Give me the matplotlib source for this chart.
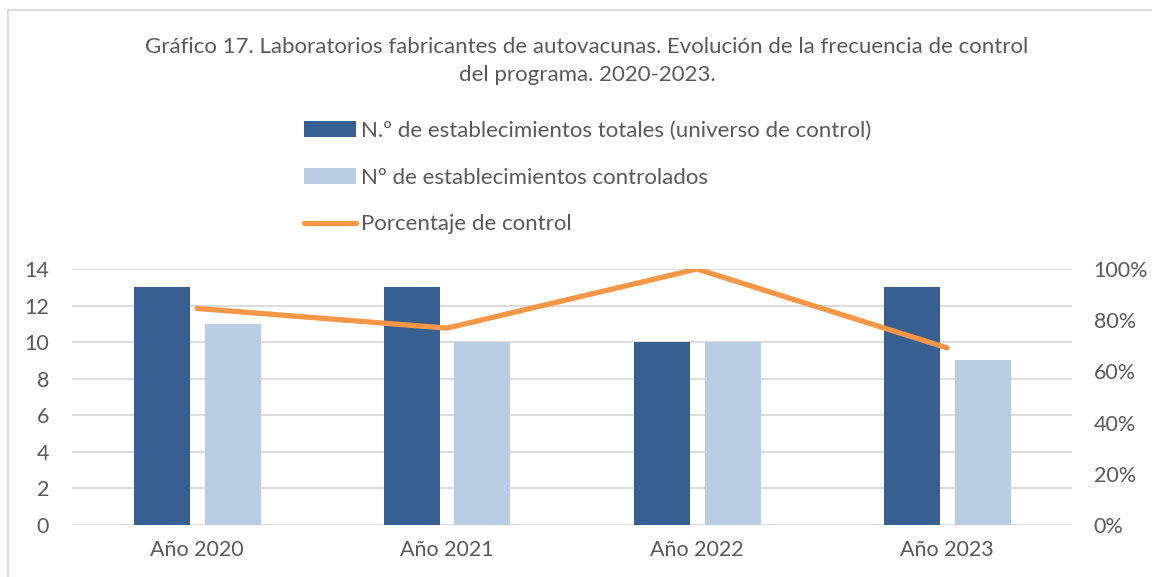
import matplotlib
matplotlib.use("Agg")
import matplotlib.pyplot as plt
from matplotlib.patches import Patch
from matplotlib.lines import Line2D
from matplotlib.ticker import PercentFormatter
import numpy as np

categories = ["Año 2020", "Año 2021", "Año 2022", "Año 2023"]
totales = [13, 13, 10, 13]
controlados = [11, 10, 10, 9]
porcentaje = [0.846, 0.769, 1.0, 0.692]

label_tot = "N.º de establecimientos totales (universo de control)"
label_ctl = "Nº de establecimientos controlados"
label_pct = "Porcentaje de control"
title = "Gráfico 17. Laboratorios fabricantes de autovacunas. Evolución de la frecuencia de control\ndel programa. 2020-2023."

c_dark = "#375F91"
c_light = "#B8CCE4"
c_orange = "#F79646"
c_text = "#595959"
c_grid = "#D9D9D9"

plt.rcParams['font.family'] = ['Lato', 'DejaVu Sans']

fig = plt.figure(figsize=(11.52, 5.77), dpi=100)
ax = fig.add_axes([72/1152, 1-525/577, 1000/1152, 256/577])

x = np.arange(len(categories))
w = 0.224
off = 0.142
ax.bar(x - off, totales, w, color=c_dark, zorder=3)
ax.bar(x + off, controlados, w, color=c_light, zorder=3)
ax.set_xlim(-0.5, len(categories) - 0.5)
ax.set_ylim(0, 14)
ax.set_yticks(range(0, 15, 2))
ax.grid(axis='y', color=c_grid, linewidth=1.3, zorder=0)
ax.set_axisbelow(True)
ax.set_xticks(x)
ax.set_xticklabels(categories)
for s in ax.spines.values():
    s.set_visible(False)
ax.tick_params(axis='both', length=0, labelsize=15.5, colors=c_text)
ax.tick_params(axis='y', pad=16.5)
ax.tick_params(axis='x', pad=11)

ax2 = ax.twinx()
ax2.plot(x, porcentaje, color=c_orange, linewidth=3.8, solid_capstyle='round', zorder=5)
ax2.set_ylim(0, 1)
ax2.set_yticks(np.arange(0, 1.01, 0.2))
ax2.yaxis.set_major_formatter(PercentFormatter(1.0, decimals=0))
for s in ax2.spines.values():
    s.set_visible(False)
ax2.tick_params(axis='y', length=0, labelsize=15.5, colors=c_text, pad=15.5)

fig.text(587/1152, 1-61/577, title, ha='center', va='center', fontsize=16,
         color=c_text, linespacing=1.45)

handles = [Patch(facecolor=c_dark), Patch(facecolor=c_light),
           Line2D([0], [0], color=c_orange, linewidth=3.8, solid_capstyle='round')]
leg = fig.legend(handles, [label_tot, label_ctl, label_pct], loc='upper left',
                 bbox_to_anchor=(304/1152, 1-121/577), frameon=False, fontsize=16,
                 labelspacing=1.2, handlelength=2.35, handletextpad=0.22, labelcolor=c_text,
                 borderpad=0, borderaxespad=0)

fig.add_artist(Line2D([8/1152, 8/1152], [0, 1-10/577], transform=fig.transFigure,
                      color=c_grid, linewidth=1.3))
fig.add_artist(Line2D([8/1152, 1], [1-10/577, 1-10/577], transform=fig.transFigure,
                      color=c_grid, linewidth=1.3))

fig.savefig("out.png", dpi=100, facecolor='white')
